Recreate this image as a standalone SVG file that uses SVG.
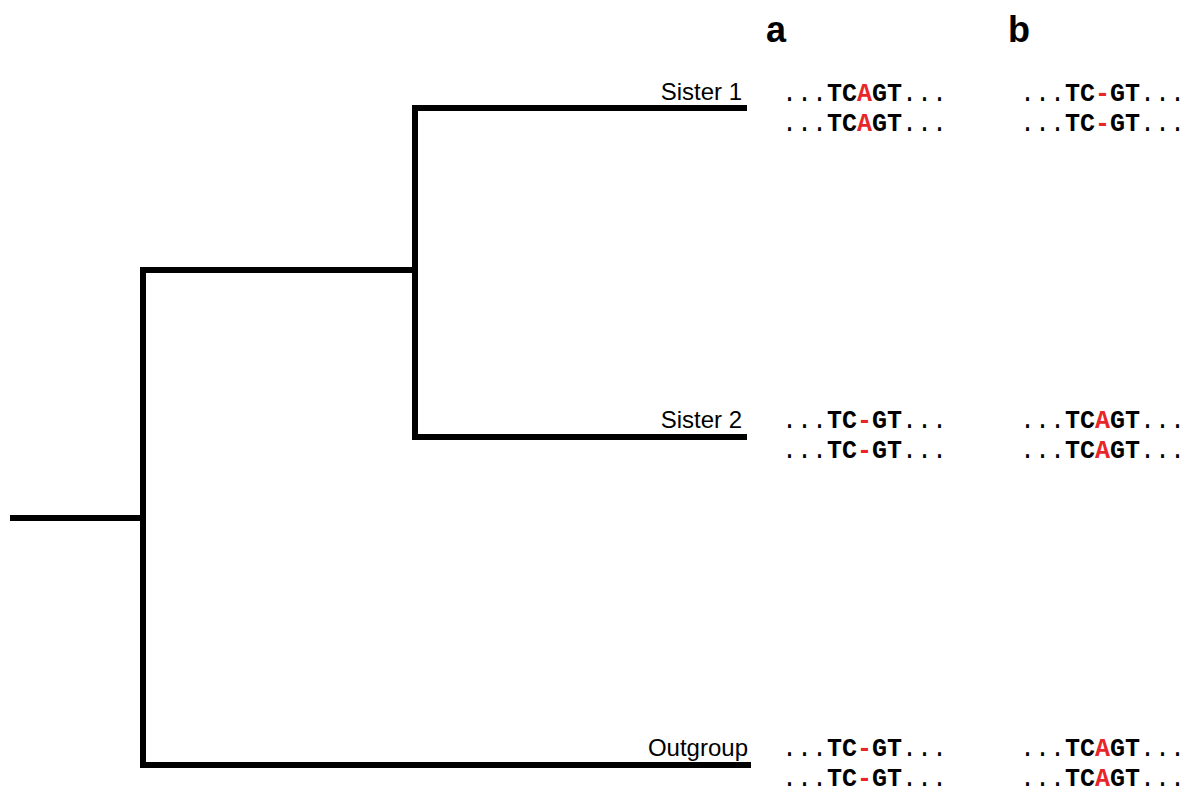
<svg xmlns="http://www.w3.org/2000/svg" width="1201" height="800" viewBox="0 0 1201 800">
<style>
.br{stroke:#000;stroke-width:6;fill:none;stroke-linecap:square}
.lab{font-family:"Liberation Sans",Arial,sans-serif;font-size:24px;text-anchor:end}
.seq{font-family:"Liberation Mono","Courier New",monospace;font-size:25px}
.b{font-weight:bold}
.r{fill:#e8262a;font-weight:bold}
.hd{font-family:"Liberation Sans",Arial,sans-serif;font-size:36px;font-weight:bold}
</style>
<rect width="1201" height="800" fill="#fff"/>
<g id="connectors">
<path class="br" d="M13,518H143M143,270V765M143,270H415M415,108V437M415,108H744M415,437H744M143,765H748"/>
</g>
<g id="headers"><text class="hd" x="766" y="42">a</text><text class="hd" x="1008" y="42">b</text></g>
<g id="sister1">
<text class="lab" x="742" y="100">Sister 1</text>
<text class="seq" x="782" y="101">...<tspan class="b">TC</tspan><tspan class="r">A</tspan><tspan class="b">GT</tspan>...</text>
<text class="seq" x="782" y="131">...<tspan class="b">TC</tspan><tspan class="r">A</tspan><tspan class="b">GT</tspan>...</text>
<text class="seq" x="1020" y="101">...<tspan class="b">TC</tspan><tspan class="r">-</tspan><tspan class="b">GT</tspan>...</text>
<text class="seq" x="1020" y="131">...<tspan class="b">TC</tspan><tspan class="r">-</tspan><tspan class="b">GT</tspan>...</text>
</g>
<g id="sister2">
<text class="lab" x="742" y="428">Sister 2</text>
<text class="seq" x="782" y="428">...<tspan class="b">TC</tspan><tspan class="r">-</tspan><tspan class="b">GT</tspan>...</text>
<text class="seq" x="782" y="458">...<tspan class="b">TC</tspan><tspan class="r">-</tspan><tspan class="b">GT</tspan>...</text>
<text class="seq" x="1020" y="428">...<tspan class="b">TC</tspan><tspan class="r">A</tspan><tspan class="b">GT</tspan>...</text>
<text class="seq" x="1020" y="458">...<tspan class="b">TC</tspan><tspan class="r">A</tspan><tspan class="b">GT</tspan>...</text>
</g>
<g id="outgroup">
<text class="lab" x="748" y="756">Outgroup</text>
<text class="seq" x="782" y="756">...<tspan class="b">TC</tspan><tspan class="r">-</tspan><tspan class="b">GT</tspan>...</text>
<text class="seq" x="782" y="786">...<tspan class="b">TC</tspan><tspan class="r">-</tspan><tspan class="b">GT</tspan>...</text>
<text class="seq" x="1020" y="756">...<tspan class="b">TC</tspan><tspan class="r">A</tspan><tspan class="b">GT</tspan>...</text>
<text class="seq" x="1020" y="786">...<tspan class="b">TC</tspan><tspan class="r">A</tspan><tspan class="b">GT</tspan>...</text>
</g>
</svg>
